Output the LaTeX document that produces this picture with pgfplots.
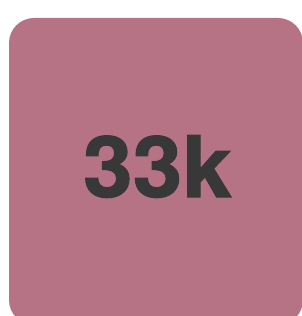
\documentclass[border=0pt]{standalone}
\usepackage{pgfplots}
\pgfplotsset{compat=1.18}
\usepackage{fontspec}
\setmainfont{TeX Gyre Heros}[BoldFeatures={FakeBold=1.2}]
\definecolor{cardbg}{HTML}{B57385}
\definecolor{valtxt}{HTML}{383838}
\begin{document}
\begin{tikzpicture}
\fill[white] (0,0) rectangle (302pt,316pt);
\begin{axis}[
  at={(0,0)}, anchor=south west,
  scale only axis, width=302pt, height=316pt,
  xmin=0, xmax=302, ymin=0, ymax=316,
  axis lines=none, clip=true,
]
\fill[cardbg, rounded corners=25pt] (axis cs:9,-9) rectangle (axis cs:303,298);
\addplot[only marks, mark=none, point meta=explicit symbolic,
  nodes near coords={\pgfplotspointmeta k},
  every node near coord/.style={anchor=center, inner sep=0pt, text=valtxt,
    xscale=1.05, font=\fontsize{85}{85}\selectfont\bfseries}]
  coordinates {(157.5,149.5) [33]};
\end{axis}
\pgfresetboundingbox
\path[use as bounding box] (0,0) rectangle (302pt,316pt);
\end{tikzpicture}
\end{document}
